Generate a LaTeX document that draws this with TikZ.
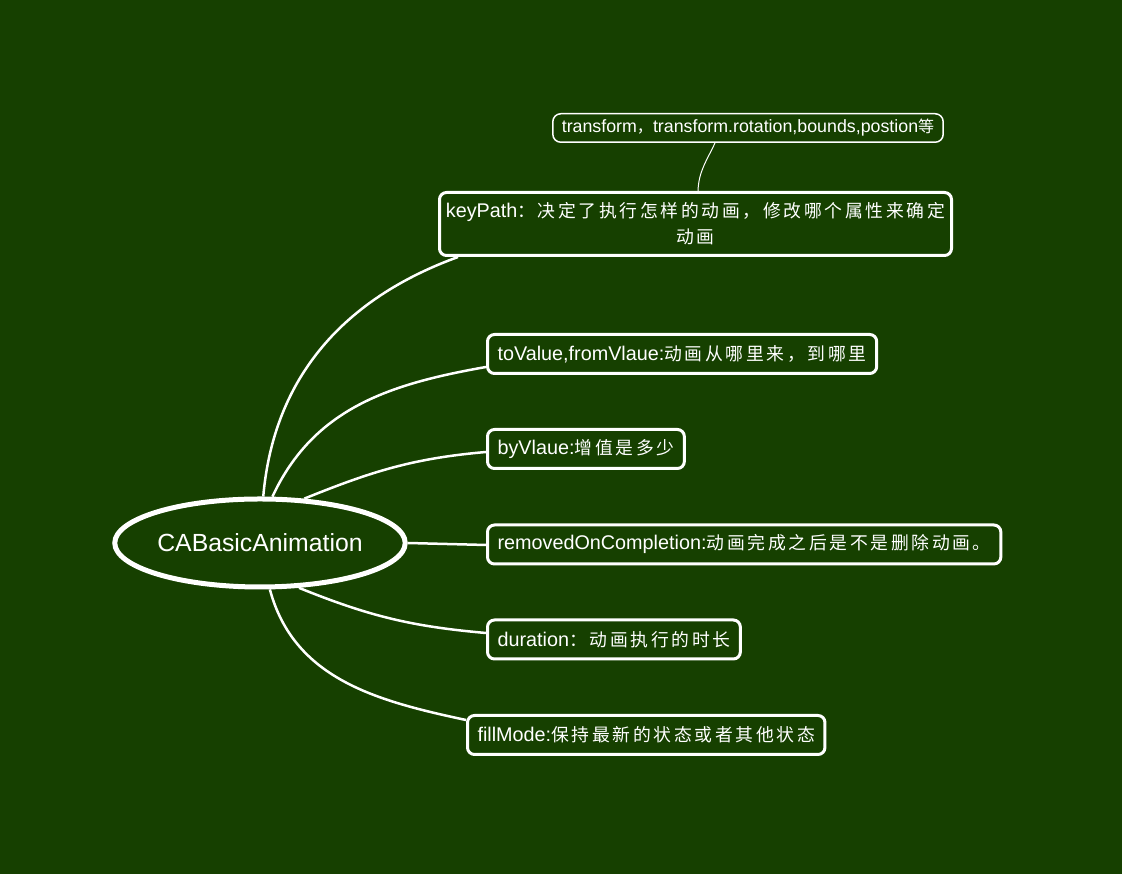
\documentclass[tikz,border=0pt]{standalone}
\usepackage{fontspec}
\setmainfont{Liberation Sans}
\newfontfamily\cjk[Scale=0.9,LetterSpace=15]{Noto Sans CJK SC}
\usetikzlibrary{shapes.geometric,calc}
\definecolor{bg}{RGB}{22,64,0}
\begin{document}
\begin{tikzpicture}[x=1pt,y=1pt,
  leaf/.style={draw=white,line width=3pt,rounded corners=7pt,fill=bg,text=white,font=\fontsize{19.8}{26}\selectfont,inner xsep=10pt,inner ysep=0pt,minimum height=39pt,anchor=west},
  small/.style={draw=white,line width=1.5pt,rounded corners=8pt,fill=bg,text=white,font=\fontsize{17.8}{22}\selectfont,inner xsep=9pt,inner ysep=0pt,minimum height=28.5pt},
  rootnode/.style={ellipse,draw=white,line width=5pt,fill=bg,text=white,font=\fontsize{24.8}{30}\selectfont,minimum width=285pt,minimum height=88pt,inner sep=0pt},
  link/.style={draw=white,line width=2.5pt},
  thinlink/.style={draw=white,line width=1pt}]
\fill[bg] (0,0) rectangle (1122,874);
\useasboundingbox (0,0) rectangle (1122,874);
\node[rootnode] (root) at (260,331) {CABasicAnimation};
\node[leaf,anchor=center,inner xsep=3pt,minimum width=512pt,minimum height=63pt,align=center] (kp) at (695.5,650) {keyPath{\cjk ：决定了执行怎样的动画，修改哪个属性来确定}\\{\cjk 动画}};
\node[small] (tr) at (748,746) {transform{\cjk ，}transform.rotation,bounds,postion{\cjk 等}};
\node[leaf] (tv) at (486,520) {toValue,fromVlaue:{\cjk 动画从哪里来，到哪里}};
\node[leaf] (by) at (486,425) {byVlaue:{\cjk 增值是多少}};
\node[leaf] (rm) at (486,329.5) {removedOnCompletion:{\cjk 动画完成之后是不是删除动画。}};
\node[leaf] (du) at (486,234.5) {duration{\cjk ：动画执行的时长}};
\node[leaf] (fm) at (466,139) {fillMode:{\cjk 保持最新的状态或者其他状态}};
\draw[link] (root.86) to[out=85,in=200] ($(kp.south west)+(20,0)$);
\draw[link] (root.75) to[out=65,in=190] ($(tv.south west)+(0,8)$);
\draw[link] (root.45) to[out=22,in=185] ($(by.west)+(0,-3)$);
\draw[link] (root.east) -- ($(rm.west)+(0,-0.5)$);
\draw[link] (root.-49) to[out=-22,in=175] ($(du.west)+(0,6.5)$);
\draw[link] (root.-78) to[out=-75,in=168] ($(fm.north west)+(0,-6)$);
\draw[thinlink] ($(kp.north)+(2.5,0)$) to[out=88,in=-115] ($(tr.south)+(-33,0)$);
\end{tikzpicture}
\end{document}
